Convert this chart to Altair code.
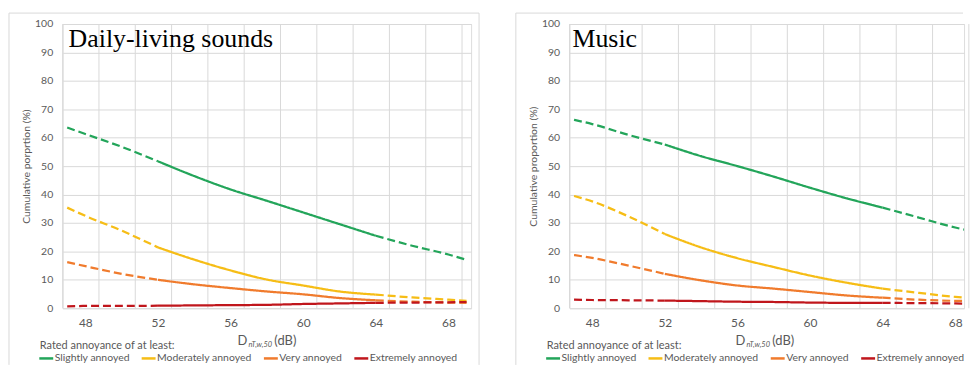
import altair as alt
import pandas as pd

# ---------------- data ----------------
x_vals = [47, 48, 50, 52, 54, 56, 58, 60, 62, 64, 66, 68, 69]
categories = ["Slightly annoyed", "Moderately annoyed", "Very annoyed", "Extremely annoyed"]
colors = ["#23a55a", "#f6bd16", "#f07b2d", "#c0161c"]

daily_slight = [63.6, 61.3, 56.8, 51.7, 46.5, 41.8, 37.8, 33.7, 29.6, 25.5, 22.0, 18.9, 17.0]
daily_moderate = [35.4, 32.5, 27.3, 21.4, 17.1, 13.3, 10.1, 8.0, 5.9, 4.8, 3.8, 3.0, 2.6]
daily_very = [16.2, 14.8, 12.1, 10.0, 8.4, 7.1, 5.9, 4.9, 3.6, 2.8, 2.3, 2.0, 1.9]
daily_extreme = [0.7, 0.8, 0.8, 0.9, 1.0, 1.1, 1.2, 1.5, 1.7, 1.9, 2.0, 2.1, 2.2]

music_slight = [66.3, 64.8, 61.0, 57.6, 53.5, 50.0, 46.3, 42.4, 38.7, 35.4, 31.9, 28.4, 27.0]
music_moderate = [39.5, 37.6, 32.3, 26.1, 21.4, 17.6, 14.5, 11.5, 9.0, 6.9, 5.4, 4.0, 3.6]
music_very = [18.7, 17.7, 15.0, 12.1, 9.8, 8.0, 6.9, 5.7, 4.5, 3.7, 3.0, 2.6, 2.5]
music_extreme = [3.0, 2.9, 2.8, 2.7, 2.5, 2.3, 2.2, 2.0, 1.9, 1.9, 1.8, 1.7, 1.6]

solid_from = 52
solid_to = 64

x_ticks = [48, 52, 56, 60, 64, 68]
y_ticks = [0, 10, 20, 30, 40, 50, 60, 70, 80, 90, 100]
grid_x = [46.75, 48.75, 50.75, 52.75, 54.75, 56.75, 58.75, 60.75, 62.75, 64.75, 66.75, 68.75]

FONT = "Lato"
GREY = "#595959"
GRID = "#d9d9d9"
BOTTOM = 343      # lowest drawn pixel (plot coords) so the page does not overflow
PX_PER_DB = 411 / 22.5


def long_df(series):
    rows = []
    for cat, vals in zip(categories, series):
        for x, v in zip(x_vals, vals):
            if x <= solid_from:
                rows.append(dict(x=x, v=v, cat=cat, seg=cat + "-lo", style="dashed"))
            if solid_from <= x <= solid_to:
                rows.append(dict(x=x, v=v, cat=cat, seg=cat + "-mid", style="solid"))
            if x >= solid_to:
                rows.append(dict(x=x, v=v, cat=cat, seg=cat + "-hi", style="dashed"))
    return pd.DataFrame(rows)


one = pd.DataFrame({"a": [0]})


def panel(df, title, ytitle, width, title_x, xt_x, border_right):
    x_max = 46.75 + width / PX_PER_DB
    xscale = alt.Scale(domain=[46.75, x_max], nice=False, zero=False)
    yscale = alt.Scale(domain=[0, 100], nice=False)
    xaxis = alt.Axis(values=x_ticks, grid=False, domain=False, ticks=False,
                     labelPadding=9, labelFontSize=12, labelColor=GREY,
                     labelFont=FONT, title=None)

    grid = alt.Chart(pd.DataFrame({"g": grid_x})).mark_rule(
        color=GRID, strokeWidth=1
    ).encode(x=alt.X("g:Q", scale=xscale, axis=xaxis))

    lines = alt.Chart(df).mark_line(
        strokeWidth=2.25, interpolate="monotone", clip=True
    ).encode(
        x=alt.X("x:Q", scale=xscale, axis=xaxis),
        y=alt.Y("v:Q", scale=yscale,
                axis=alt.Axis(values=y_ticks, grid=True, gridColor=GRID, domain=False,
                              ticks=False, labelPadding=10, labelFontSize=10.5,
                              labelColor=GREY, labelFont=FONT,
                              title=ytitle, titleX=-36, titleY=143, titleAngle=270,
                              titleAlign="center", titleBaseline="middle",
                              titleFontSize=10.5, titleFontWeight="normal",
                              titleColor=GREY, titleFont=FONT)),
        color=alt.Color("cat:N", sort=categories,
                        scale=alt.Scale(domain=categories, range=colors),
                        legend=alt.Legend(title="Rated annoyance of at least:",
                                          orient="none", legendX=-23,
                                          legendY=BOTTOM - 25,
                                          direction="horizontal",
                                          symbolType="M-1.4,0H1.4",
                                          symbolSize=100, symbolStrokeWidth=2.5,
                                          labelFontSize=10.5, labelFont=FONT,
                                          labelColor=GREY, titleFontSize=11,
                                          titleFont=FONT, titleFontWeight="normal",
                                          titleColor=GREY, columnPadding=6,
                                          titlePadding=1, labelOffset=2, padding=0)),
        strokeDash=alt.StrokeDash("style:N",
                                  scale=alt.Scale(domain=["dashed", "solid"],
                                                  range=[[8, 4], [1, 0]]),
                                  legend=None),
        detail="seg:N",
    )

    ttl = alt.Chart(one).mark_text(
        text=title, font="Liberation Serif", fontSize=26, align="left",
        baseline="alphabetic", color="black"
    ).encode(x=alt.value(title_x), y=alt.value(23))

    xt_d = alt.Chart(one).mark_text(
        text="D", font=FONT, fontSize=13, align="left", baseline="middle", color=GREY
    ).encode(x=alt.value(xt_x), y=alt.value(319))
    xt_sub = alt.Chart(one).mark_text(
        text="nT,w,50", font=FONT, fontSize=7.5, fontStyle="italic", align="left",
        baseline="middle", color=GREY
    ).encode(x=alt.value(xt_x + 11), y=alt.value(323))
    xt_db = alt.Chart(one).mark_text(
        text="(dB)", font=FONT, fontSize=13, align="left", baseline="middle", color=GREY
    ).encode(x=alt.value(xt_x + 37), y=alt.value(319))

    b_left = alt.Chart(one).mark_rule(color=GRID, strokeWidth=1).encode(
        x=alt.value(-54), y=alt.value(-11), y2=alt.value(BOTTOM))
    b_top = alt.Chart(one).mark_rule(color=GRID, strokeWidth=1).encode(
        x=alt.value(-54), x2=alt.value(border_right), y=alt.value(-11))
    layers = [grid, lines, ttl, xt_d, xt_sub, xt_db, b_left, b_top]
    if border_right > width:
        b_right = alt.Chart(one).mark_rule(color=GRID, strokeWidth=1).encode(
            x=alt.value(border_right), y=alt.value(-11), y2=alt.value(BOTTOM))
        layers.append(b_right)
    return alt.layer(*layers).properties(width=width, height=286)


left = panel(long_df([daily_slight, daily_moderate, daily_very, daily_extreme]),
             "Daily-living sounds", "Cumulative porprtion (%)", 411, 6, 176, 419)
right = panel(long_df([music_slight, music_moderate, music_very, music_extreme]),
              "Music", "Cumulative proportion (%)", 397, 3, 167, 396)

chart = alt.hconcat(left, right, spacing=99, bounds="flush").resolve_scale(
    x="independent", y="independent", color="independent", strokeDash="independent"
).resolve_legend(color="independent").properties(
    padding={"left": 0, "top": 3, "right": 0, "bottom": 0}
).configure_view(fill="#f2f2f2", stroke=None).configure(font=FONT, background="white")

chart.save("out.html", embed_options={"renderer": "svg", "actions": False})
